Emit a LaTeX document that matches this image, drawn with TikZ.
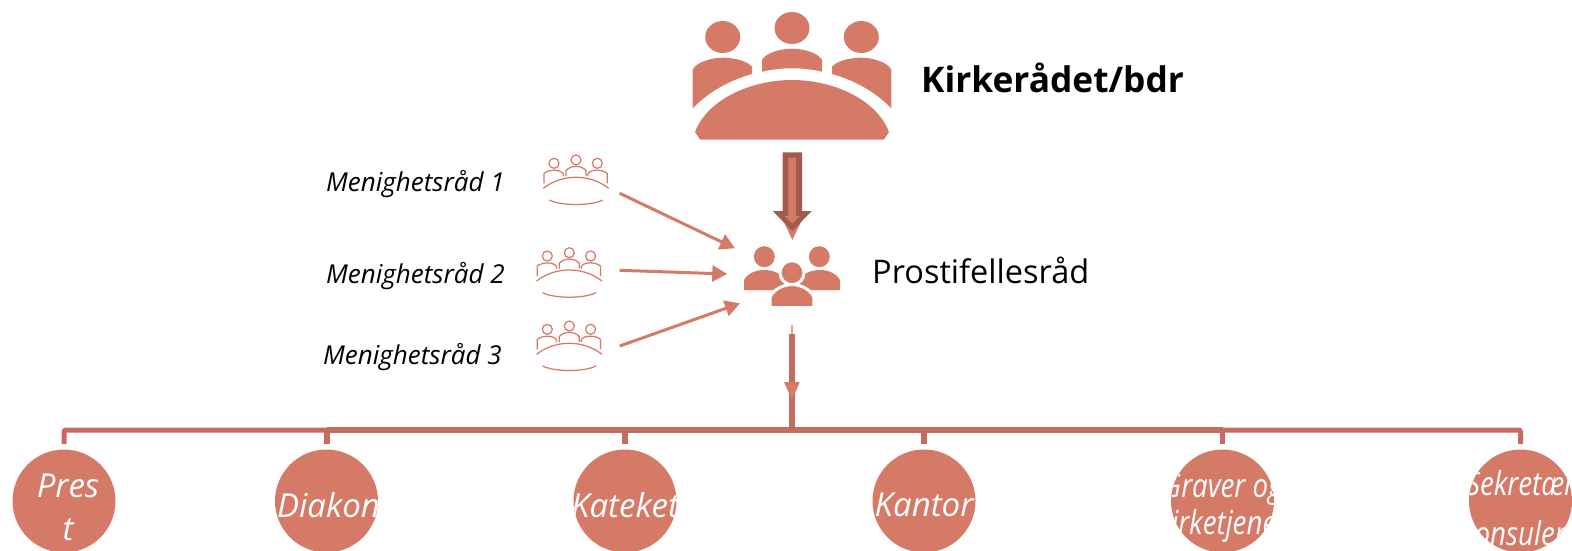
\documentclass[tikz,border=0pt]{standalone}
\usepackage{fontspec}
\setmainfont{Open Sans}
\usetikzlibrary{arrows.meta}
\definecolor{salmon}{HTML}{D67A68}
\definecolor{barred}{HTML}{C46C5D}
\definecolor{darkred}{HTML}{A05A4E}
\newcommand\narrowtxt{\addfontfeature{FakeStretch=0.84}}
\tikzset{
  person/.style={fill=salmon,draw=none},
  staff/.style 2 args={circle,fill=salmon,draw=none,minimum size=103pt,inner sep=0pt,
    path picture={\node[white,font=\fontsize{33}{33}\selectfont\itshape,align=center,inner sep=0pt,yshift=-#2 pt]
       at (path picture bounding box.center) {#1};}},
  barline/.style={draw=barred,line width=5.4pt},
  inarrow/.style={draw=salmon,line width=3pt,-{Triangle[length=15pt,width=16pt]}},
  outlineicon/.style={draw=salmon,line width=1.25pt,fill=none},
  mrtext/.style={font=\fontsize{26}{26}\selectfont\itshape,inner sep=0pt},
  tableicon/.pic={
    \path[outlineicon] (-22,3.3) circle (5);
    \path[outlineicon] (0,0) circle (5);
    \path[outlineicon] (21.3,3.3) circle (5);
    \path[outlineicon] (-32,23.3) -- (-32,13.5) .. controls (-28,9.5) and (-16,8.5) .. (-12.7,14) -- (-12.7,16);
    \path[outlineicon] (-10,16) -- (-10,10.5) .. controls (-5,5) and (5,5) .. (10,10.5) -- (10,16);
    \path[outlineicon] (12,16) -- (12,13.5) .. controls (16,8.5) and (27,9.5) .. (31.3,13.5) -- (31.3,23.3);
    \path[outlineicon] (-32.7,28.3) .. controls (-22,20) and (-10,17.3) .. (0,17.3) .. controls (10,17.3) and (22,20) .. (32.7,28.3);
    \path[outlineicon] (-26.7,40) .. controls (-15,46) and (15,46) .. (26.7,40);
  }
}
\begin{document}
\begin{tikzpicture}[x=1pt,y=-1pt]
\useasboundingbox (0,0) rectangle (1572,550);
\clip (0,0) rectangle (1572,550);

% Kirkeradet icon
\fill[person] (722.7,37) ellipse (17.5 and 16);
\fill[person] (792,28) ellipse (17.5 and 16);
\fill[person] (861.3,37) ellipse (17.5 and 16);
\fill[person] (692.7,108.5) -- (692.7,70) .. controls (695,63) and (710,57.7) .. (723,57.7)
  .. controls (736,57.7) and (749,62) .. (752,67) -- (752,74)
  .. controls (730,80) and (708,92) .. (692.7,108.5) -- cycle;
\fill[person] (762,71.7) -- (762,60) .. controls (765,54) and (778,48.7) .. (792,48.7)
  .. controls (806,48.7) and (819,54) .. (822,60) -- (822,71.7)
  .. controls (812,69.3) and (802,68.3) .. (792,68.3) .. controls (782,68.3) and (772,69.3) .. (762,71.7) -- cycle;
\fill[person] (891.3,108.5) -- (891.3,70) .. controls (889,63) and (874,57.7) .. (861,57.7)
  .. controls (848,57.7) and (835,62) .. (832,67) -- (832,74)
  .. controls (854,80) and (876,92) .. (891.3,108.5) -- cycle;
\fill[person] (695,132) .. controls (707,100) and (750,80) .. (792,80)
  .. controls (834,80) and (877,100) .. (889,132) -- (884,139.5) -- (700,139.5) -- cycle;
\node[font=\fontsize{35.3}{35.3}\selectfont\bfseries,anchor=west,inner sep=0pt] (kirk) at (921,78) {Kirkerådet/bdr};

% thick arrow
\coordinate (thickTop) at (792.3,152.3);
\fill[salmon] (784,222) -- (801,222) -- (792.3,240) -- cycle;
\fill[darkred] (782.7,152.3) -- (802,152.3) -- (802,211) -- (811.7,211) -- (792.3,231) -- (772.7,211) -- (782.7,211) -- cycle;
\fill[salmon] (788.3,157.7) -- (796.2,157.7) -- (796.2,216) -- (800,216) -- (792.3,223.5) -- (784.5,216) -- (788.3,216) -- cycle;

% prostifellesrad icon
\coordinate (prost) at (792,285);
\fill[person] (764.3,256.7) circle (10.5);
\fill[person] (819.3,256.7) circle (10.5);
\fill[person] (744,290) -- (744,280) .. controls (748,273) and (756,270) .. (764,270)
  .. controls (772,270) and (780,273) .. (784,278) -- (784,290) -- cycle;
\fill[person] (840,290) -- (840,280) .. controls (836,273) and (828,270) .. (820,270)
  .. controls (812,270) and (804,273) .. (800,278) -- (800,290) -- cycle;
\fill[person,draw=white,line width=3pt] (792,272.7) circle (12);
\fill[person,draw=white,line width=3pt] (770.2,307.5) -- (770.2,297) .. controls (773,290) and (783,284.5) .. (792,284.5)
  .. controls (801,284.5) and (811,290) .. (813.8,297) -- (813.8,307.5) -- cycle;
\fill[white] (760,306.8) rectangle (825,312);
\node[font=\fontsize{32.5}{32.5}\selectfont,anchor=west,inner sep=0pt] (pf) at (872,270) {Prostifellesråd};

% menighetsrad
\node[mrtext,anchor=west] (m1) at (326,184) {Menighetsråd 1};
\node[mrtext,anchor=west] (m2) at (326,276) {Menighetsråd 2};
\node[mrtext,anchor=west] (m3) at (323,357) {Menighetsråd 3};
\pic at (576,160) {tableicon};
\pic at (569.3,252.7) {tableicon};
\pic at (569.3,326) {tableicon};
\coordinate (a1) at (619.7,193.3);
\coordinate (a2) at (619.7,270.3);
\coordinate (a3) at (619.7,346);
\coordinate (b1) at (735,248.3);
\coordinate (b2) at (727.3,274);
\coordinate (b3) at (740,303.3);
\draw[inarrow] (a1) -- (b1);
\draw[inarrow] (a2) -- (b2);
\draw[inarrow] (a3) -- (b3);

% down arrow
\coordinate (dTop) at (792,334);
\coordinate (dBar) at (792,430);
\fill[salmon!70!white] (790.7,325) rectangle (793.3,335);
\draw[barred,line width=6pt] (dTop) -- (dBar);
\fill[salmon] (784,382) -- (799.7,382) -- (792,400) -- cycle;

% staff
\node[staff={\hspace*{8pt}Pres\\[10pt]\hspace*{8pt}t}{6}] (c1) at (64,501) {};
\node[staff={\hspace*{4pt}Diakon}{4}] (c2) at (326.5,501) {};
\node[staff={Kateket}{4}] (c3) at (625,501) {};
\node[staff={Kantor}{4}] (c4) at (924,501) {};
\node[staff={\narrowtxt Graver og\\[4pt]\narrowtxt kirketjener}{7}] (c5) at (1222.5,501) {};
\node[staff={\narrowtxt Sekretær\\[17pt]\narrowtxt konsulent}{7}] (c6) at (1520.5,501) {};

% bar
\coordinate (t1) at (64,444);
\coordinate (t2) at (327,444);
\coordinate (t3) at (625,444);
\coordinate (t4) at (924,444);
\coordinate (t5) at (1222.5,444);
\coordinate (t6) at (1520.5,444);
\draw[barline,line width=5pt,rounded corners=2pt] (t1) -- (64,430) -- (327,430);
\draw[barline,line width=5pt,rounded corners=2pt] (t6) -- (1520.5,430) -- (1222.5,430);
\draw[barline,line width=6pt] (327,430) -- (1222.5,430);
\draw[barline] (327,430) -- (t2);
\draw[barline] (625,430) -- (t3);
\draw[barline] (924,430) -- (t4);
\draw[barline] (1222.5,430) -- (t5);
\end{tikzpicture}
\end{document}
